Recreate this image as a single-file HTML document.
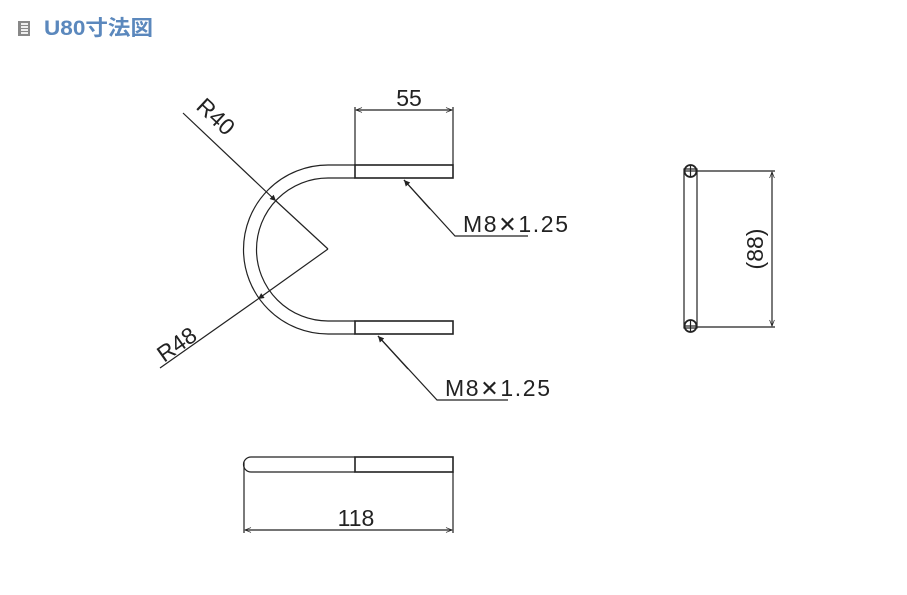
<!DOCTYPE html>
<html><head><meta charset="utf-8"><style>
html,body{margin:0;padding:0;background:#fff;width:907px;height:595px;overflow:hidden}
svg{display:block}
</style></head><body>
<svg width="907" height="595" viewBox="0 0 907 595" xmlns="http://www.w3.org/2000/svg">
<defs>
<marker id="a" viewBox="0 0 10 10" refX="10" refY="5" markerWidth="10" markerHeight="6" orient="auto-start-reverse" markerUnits="userSpaceOnUse"><path d="M0,1 L10,5 L0,9" fill="none" stroke="#222" stroke-width="1.2"/></marker>
<marker id="f" viewBox="0 0 10 10" refX="10" refY="5" markerWidth="10" markerHeight="6" orient="auto" markerUnits="userSpaceOnUse"><path d="M0,0 L10,5 L0,10 z" fill="#222"/></marker>
</defs>
<rect x="18" y="21" width="12" height="15" fill="#888"/>
<rect x="21" y="23" width="7" height="11" fill="#eee"/>
<g stroke="#888" stroke-width="1"><line x1="21" y1="25.5" x2="28" y2="25.5"/><line x1="21" y1="28.5" x2="28" y2="28.5"/><line x1="21" y1="31.5" x2="28" y2="31.5"/></g>
<text x="44" y="35" font-family="Liberation Sans, 'Noto Sans CJK JP', sans-serif" font-weight="bold" font-size="21" fill="#5b88bd" textLength="109" lengthAdjust="spacingAndGlyphs">U80寸法図</text>

<g fill="none" stroke="#222" stroke-width="1.2">
<path d="M355,165 L328,165 A84.5,84.5 0 0 0 328,334 L355,334"/>
<path d="M355,178 L328,178 A71.5,71.5 0 0 0 328,321 L355,321"/>
<rect x="355" y="165" width="98" height="13" stroke-width="1.6"/>
<rect x="355" y="321" width="98" height="13" stroke-width="1.6"/>
<line x1="355" y1="107" x2="355" y2="165"/>
<line x1="453" y1="107" x2="453" y2="165"/>
<line x1="356" y1="110" x2="452" y2="110" marker-start="url(#a)" marker-end="url(#a)"/>
<line x1="183" y1="113" x2="276" y2="201" marker-end="url(#f)"/>
<line x1="276" y1="201" x2="328" y2="249"/>
<line x1="328" y1="249" x2="258" y2="299" marker-end="url(#f)"/>
<line x1="258" y1="299" x2="160" y2="368"/>
<polyline points="528,236 455,236 404,180" />
<polyline points="508,400 437,400 378,336" />
<line x1="430" y1="209" x2="404" y2="180" marker-end="url(#f)"/>
<line x1="408" y1="369" x2="378" y2="336" marker-end="url(#f)"/>
<rect x="684" y="169" width="13" height="159"/>
<g stroke-width="1.8">
<circle cx="690.5" cy="171" r="6"/>
<circle cx="690.5" cy="326" r="6"/>
</g>
<line x1="684.5" y1="171" x2="696.5" y2="171"/><line x1="690.5" y1="165" x2="690.5" y2="177"/>
<line x1="684.5" y1="326" x2="696.5" y2="326"/><line x1="690.5" y1="320" x2="690.5" y2="332"/>
<line x1="697" y1="171" x2="775" y2="171"/>
<line x1="697" y1="327" x2="775" y2="327"/>
<line x1="772" y1="172" x2="772" y2="326" marker-start="url(#a)" marker-end="url(#a)"/>
<path d="M355,457 L251,457 A7.5,7.5 0 0 0 251,472 L355,472"/>
<rect x="355" y="457" width="98" height="15" stroke-width="1.6"/>
<line x1="244" y1="462" x2="244" y2="533"/>
<line x1="453" y1="472" x2="453" y2="533"/>
<line x1="245" y1="530" x2="452" y2="530" marker-start="url(#a)" marker-end="url(#a)"/>
</g>
<g font-family="Liberation Sans, sans-serif" fill="#222" font-size="23">
<text x="409" y="106" text-anchor="middle">55</text>
<text x="356" y="526" text-anchor="middle">118</text>
<text x="463" y="232" textLength="105" lengthAdjust="spacing">M8<tspan font-family="DejaVu Sans, sans-serif" font-size="22">✕</tspan>1.25</text>
<text x="445" y="396" textLength="105" lengthAdjust="spacing">M8<tspan font-family="DejaVu Sans, sans-serif" font-size="22">✕</tspan>1.25</text>
<text transform="translate(195,108) rotate(43)">R40</text>
<text transform="translate(164,363) rotate(-35)">R48</text>
<text transform="translate(763,249) rotate(-90)" text-anchor="middle">(88)</text>
</g>
</svg>
</body></html>
